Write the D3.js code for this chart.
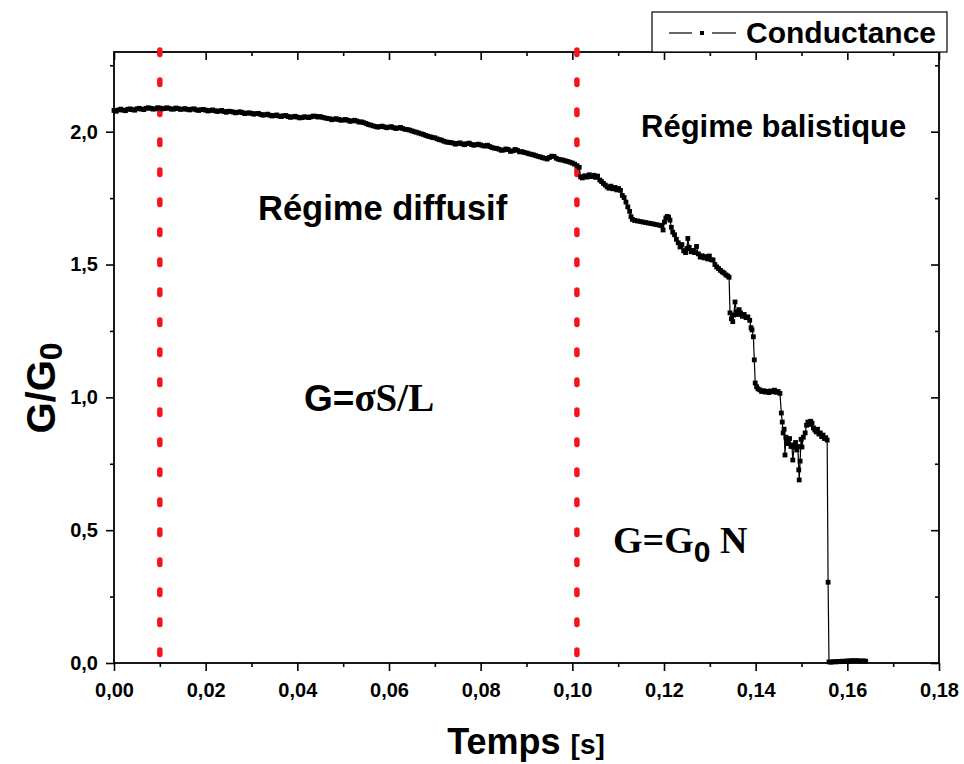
<!DOCTYPE html>
<html><head><meta charset="utf-8">
<script src="https://cdn.jsdelivr.net/npm/d3@7"></script>
<style>body{margin:0;background:#fff}svg{display:block}</style>
</head><body>
<svg id="c" width="964" height="764"></svg>
<script>
// ---- DATA ----
const timeS = [
0.0000,0.0005,0.0010,0.0015,0.0020,0.0025,0.0030,0.0035,0.0040,0.0045,
0.0050,0.0055,0.0060,0.0065,0.0070,0.0075,0.0080,0.0085,0.0090,0.0095,
0.0100,0.0105,0.0110,0.0115,0.0120,0.0125,0.0130,0.0135,0.0140,0.0145,
0.0150,0.0155,0.0160,0.0165,0.0170,0.0175,0.0180,0.0185,0.0190,0.0195,
0.0200,0.0205,0.0210,0.0215,0.0220,0.0225,0.0230,0.0235,0.0240,0.0245,
0.0250,0.0255,0.0260,0.0265,0.0270,0.0275,0.0280,0.0285,0.0290,0.0295,
0.0300,0.0305,0.0310,0.0315,0.0320,0.0325,0.0330,0.0335,0.0340,0.0345,
0.0350,0.0355,0.0360,0.0365,0.0370,0.0375,0.0380,0.0385,0.0390,0.0395,
0.0400,0.0405,0.0410,0.0415,0.0420,0.0425,0.0430,0.0435,0.0440,0.0445,
0.0450,0.0455,0.0460,0.0465,0.0470,0.0475,0.0480,0.0485,0.0490,0.0495,
0.0500,0.0505,0.0510,0.0515,0.0520,0.0525,0.0530,0.0535,0.0540,0.0545,
0.0550,0.0555,0.0560,0.0565,0.0570,0.0575,0.0580,0.0585,0.0590,0.0595,
0.0600,0.0605,0.0610,0.0615,0.0620,0.0625,0.0630,0.0635,0.0640,0.0645,
0.0650,0.0655,0.0660,0.0665,0.0670,0.0675,0.0680,0.0685,0.0690,0.0695,
0.0700,0.0705,0.0710,0.0715,0.0720,0.0725,0.0730,0.0735,0.0740,0.0745,
0.0750,0.0755,0.0760,0.0765,0.0770,0.0775,0.0780,0.0785,0.0790,0.0795,
0.0800,0.0805,0.0810,0.0815,0.0820,0.0825,0.0830,0.0835,0.0840,0.0845,
0.0850,0.0855,0.0860,0.0865,0.0870,0.0875,0.0880,0.0885,0.0890,0.0895,
0.0900,0.0905,0.0910,0.0915,0.0920,0.0925,0.0930,0.0935,0.0940,0.0945,
0.0950,0.0955,0.0960,0.0965,0.0970,0.0975,0.0980,0.0985,0.0990,0.0995,
0.1000,0.1005,0.1010,
0.1015,0.1018,0.1022,0.1027,0.1032,0.1037,0.1042,0.1047,0.1051,0.1055,
0.1060,0.1064,0.1068,0.1072,0.1076,0.1080,0.1084,0.1089,0.1093,0.1097,
0.1101,0.1105,0.1109,0.1113,0.1117,0.1121,0.1125,0.1128,0.1131,0.1136,
0.1142,0.1148,0.1154,0.1160,0.1166,0.1172,0.1178,0.1184,0.1190,0.1195,
0.1198,0.1201,0.1204,0.1207,0.1210,0.1213,0.1216,0.1219,0.1223,0.1227,
0.1231,0.1235,0.1239,0.1243,0.1247,0.1250,0.1252,0.1255,0.1259,0.1263,
0.1267,0.1271,0.1275,0.1279,0.1283,0.1287,0.1291,0.1295,0.1299,0.1303,
0.1307,0.1311,0.1315,0.1319,0.1323,0.1327,0.1331,0.1335,0.1339,0.1342,
0.1344,0.1347,0.1350,0.1352,0.1355,0.1358,0.1361,0.1364,0.1367,0.1371,
0.1375,0.1379,0.1383,0.1387,0.1390,0.1392,0.1395,0.1397,0.1399,0.1402,
0.1405,0.1409,0.1413,0.1417,0.1421,0.1425,0.1429,0.1433,0.1437,0.1441,
0.1445,0.1449,0.1453,0.1456,0.1458,0.1460,0.1462,0.1464,0.1466,0.1468,
0.1471,0.1474,0.1477,0.1479,0.1481,0.1484,0.1487,0.1490,0.1492,0.1494,
0.1495,0.1497,0.1499,0.1501,0.1504,0.1508,0.1511,0.1514,0.1517,0.1520,
0.1523,0.1526,0.1529,0.1532,0.1535,0.1538,0.1541,0.1544,0.1547,0.1550,
0.1553,0.1556,0.1558,0.1560,0.1565,0.1570,0.1575,0.1580,0.1585,0.1590,
0.1595,0.1600,0.1605,0.1610,0.1615,0.1620,0.1625,0.1630,0.1635,0.1640
];
const conductance = [
2.080,2.077,2.082,2.085,2.081,2.079,2.084,2.086,2.083,2.081,
2.086,2.088,2.085,2.083,2.088,2.090,2.088,2.085,2.086,2.090,
2.089,2.086,2.087,2.090,2.088,2.085,2.085,2.089,2.087,2.084,
2.085,2.087,2.084,2.082,2.085,2.086,2.082,2.080,2.083,2.084,
2.081,2.078,2.080,2.082,2.079,2.076,2.078,2.080,2.076,2.073,
2.077,2.076,2.074,2.071,2.073,2.075,2.072,2.068,2.070,2.071,
2.069,2.066,2.068,2.069,2.065,2.062,2.064,2.066,2.062,2.059,
2.061,2.063,2.059,2.057,2.060,2.061,2.057,2.054,2.056,2.058,
2.055,2.052,2.053,2.056,2.055,2.053,2.056,2.059,2.058,2.055,
2.057,2.054,2.052,2.050,2.049,2.045,2.047,2.049,2.046,2.043,
2.044,2.046,2.043,2.039,2.041,2.043,2.040,2.036,2.037,2.034,
2.031,2.027,2.025,2.022,2.020,2.017,2.019,2.021,2.018,2.015,
2.017,2.019,2.015,2.012,2.014,2.016,2.012,2.009,2.008,2.006,
2.003,2.000,1.998,1.995,1.992,1.990,1.986,1.983,1.981,1.978,
1.977,1.973,1.970,1.968,1.964,1.961,1.960,1.959,1.957,1.953,
1.956,1.958,1.954,1.951,1.955,1.957,1.952,1.949,1.951,1.953,
1.950,1.947,1.946,1.949,1.944,1.940,1.938,1.937,1.934,1.930,
1.931,1.935,1.933,1.926,1.928,1.933,1.930,1.924,1.925,1.922,
1.920,1.917,1.915,1.913,1.910,1.907,1.905,1.902,1.900,1.897,
1.903,1.908,1.907,1.900,1.896,1.894,1.893,1.890,1.888,1.885,
1.882,1.878,1.872,
1.866,1.830,1.826,1.834,1.829,1.838,1.831,1.836,1.828,1.833,
1.818,1.812,1.805,1.799,1.792,1.787,1.795,1.785,1.790,1.781,
1.786,1.779,1.760,1.752,1.735,1.717,1.700,1.680,1.670,1.666,
1.664,1.662,1.660,1.658,1.656,1.654,1.652,1.650,1.648,1.646,
1.630,1.660,1.675,1.681,1.678,1.667,1.640,1.622,1.612,1.595,
1.582,1.566,1.575,1.552,1.545,1.560,1.598,1.565,1.548,1.553,
1.545,1.568,1.540,1.528,1.533,1.525,1.530,1.521,1.532,1.518,
1.517,1.500,1.491,1.485,1.478,1.472,1.468,1.461,1.457,1.452,
1.318,1.296,1.285,1.310,1.359,1.322,1.312,1.330,1.318,1.305,
1.312,1.300,1.303,1.290,1.262,1.254,1.228,1.141,1.054,1.040,
1.032,1.028,1.022,1.025,1.020,1.023,1.018,1.024,1.021,1.027,
1.019,1.022,1.015,0.941,0.907,0.866,0.880,0.783,0.850,0.839,
0.826,0.845,0.815,0.821,0.764,0.812,0.830,0.802,0.815,0.727,
0.689,0.760,0.842,0.813,0.850,0.866,0.895,0.907,0.898,0.910,
0.903,0.885,0.877,0.870,0.880,0.862,0.866,0.852,0.858,0.845,
0.848,0.839,0.304,0.004,0.003,0.005,0.004,0.006,0.005,0.007,
0.006,0.008,0.007,0.009,0.008,0.009,0.008,0.007,0.008,0.007
];
const xMajorTicks = [0,0.02,0.04,0.06,0.08,0.10,0.12,0.14,0.16,0.18];
const xMinorTicks = [0.01,0.03,0.05,0.07,0.09,0.11,0.13,0.15,0.17];
const yMajorTicks = [0,0.5,1.0,1.5,2.0];
const yMinorTicks = [0.25,0.75,1.25,1.75,2.25];
const regimeBoundaries = [0.01,0.1010];
const seriesName = "Conductance";

// ---- CHART ----
const svg = d3.select("#c");
const L = 114, R = 939, T = 52, B = 663;
const x = d3.scaleLinear().domain([0,0.18]).range([L,R]);
const y = d3.scaleLinear().domain([0,2.3]).range([B,T]);
const sans = "'Liberation Sans', Arial, sans-serif";
const serif = "'Liberation Serif', 'Times New Roman', serif";
const fmtX = d => d3.format(".2f")(d).replace(".", ",");
const fmtY = d => d3.format(".1f")(d).replace(".", ",");

function styleAxis(g){
  g.select(".domain").remove();
  g.selectAll("line").attr("stroke","#000").attr("stroke-width",1.6);
  g.selectAll("text").attr("font-family",sans).attr("font-weight","bold")
   .attr("font-size",20).attr("fill","#000");
}
// bottom
svg.append("g").attr("transform",`translate(0,${B})`)
  .call(d3.axisBottom(x).tickValues(xMajorTicks).tickSize(8).tickPadding(12).tickFormat(fmtX)).call(styleAxis);
svg.append("g").attr("transform",`translate(0,${B})`)
  .call(d3.axisBottom(x).tickValues(xMinorTicks).tickSize(4).tickFormat("")).call(styleAxis);
// top
svg.append("g").attr("transform",`translate(0,${T})`)
  .call(d3.axisTop(x).tickValues(xMajorTicks).tickSize(-8).tickFormat("")).call(styleAxis);
svg.append("g").attr("transform",`translate(0,${T})`)
  .call(d3.axisTop(x).tickValues(xMinorTicks).tickSize(-4).tickFormat("")).call(styleAxis);
// left
svg.append("g").attr("transform",`translate(${L},0)`)
  .call(d3.axisLeft(y).tickValues(yMajorTicks).tickSize(8).tickPadding(8).tickFormat(fmtY)).call(styleAxis);
svg.append("g").attr("transform",`translate(${L},0)`)
  .call(d3.axisLeft(y).tickValues(yMinorTicks).tickSize(4).tickFormat("")).call(styleAxis);
// right
svg.append("g").attr("transform",`translate(${R},0)`)
  .call(d3.axisRight(y).tickValues(yMajorTicks).tickSize(-8).tickFormat("")).call(styleAxis);
svg.append("g").attr("transform",`translate(${R},0)`)
  .call(d3.axisRight(y).tickValues(yMinorTicks).tickSize(-4).tickFormat("")).call(styleAxis);

// frame
svg.append("rect").attr("x",L).attr("y",T).attr("width",R-L).attr("height",B-T)
  .attr("fill","none").attr("stroke","#000").attr("stroke-width",1.8);

// red dotted regime boundaries
svg.selectAll("line.reg").data(regimeBoundaries).enter().append("line")
  .attr("class","reg")
  .attr("x1",d=>x(d)).attr("x2",d=>x(d)).attr("y1",T-2).attr("y2",B-3)
  .attr("stroke","#f5141a").attr("stroke-width",5.5)
  .attr("stroke-linecap","round").attr("stroke-dasharray","4.5,25.5");

// data
const pts = timeS.map((t,i)=>[t,conductance[i]]);
svg.append("path").datum(pts)
  .attr("d", d3.line().x(d=>x(d[0])).y(d=>y(d[1])))
  .attr("fill","none").attr("stroke","#000").attr("stroke-width",1.2);
const ms = 4.8;
svg.append("g").selectAll("rect").data(pts).enter().append("rect")
  .attr("x",d=>x(d[0])-ms/2).attr("y",d=>y(d[1])-ms/2)
  .attr("width",ms).attr("height",ms).attr("fill","#000");

// annotations
function txt(xp, yp, size, fam, content, anchor){
  return svg.append("text").attr("x",xp).attr("y",yp).attr("font-size",size)
    .attr("font-family",fam).attr("font-weight","bold").attr("fill","#000")
    .attr("text-anchor",anchor||"start").text(content);
}
txt(258, 220, 34.5, sans, "Régime diffusif");
txt(641, 137, 31, sans, "Régime balistique");

const t1 = svg.append("text").attr("x",304).attr("y",411).attr("font-weight","bold").attr("fill","#000");
t1.append("tspan").attr("font-family",sans).attr("font-size",37).text("G=");
t1.append("tspan").attr("font-family",serif).attr("font-size",39).text("σS/L");

const t2 = svg.append("text").attr("x",613).attr("y",553).attr("font-weight","bold").attr("fill","#000").attr("font-family",serif).attr("font-size",38);
t2.append("tspan").text("G=G");
t2.append("tspan").attr("font-family",sans).attr("font-size",30).attr("dy",9).text("0");
t2.append("tspan").attr("dy",-9).text(" N");

// axis titles
const xt = svg.append("text").attr("x",526).attr("y",754).attr("text-anchor","middle")
  .attr("font-family",sans).attr("font-weight","bold").attr("fill","#000");
xt.append("tspan").attr("font-size",36).text("Temps ");
xt.append("tspan").attr("font-size",28).text("[s]");

const yt = svg.append("text").attr("transform","translate(55,388) rotate(-90)").attr("text-anchor","middle")
  .attr("font-family",sans).attr("font-weight","bold").attr("fill","#000").attr("font-size",40);
yt.append("tspan").text("G/G");
yt.append("tspan").attr("font-size",32).attr("dy",7).text("0");

// legend
const lg = svg.append("g");
lg.append("rect").attr("x",652).attr("y",12).attr("width",295).attr("height",40)
  .attr("fill","#fff").attr("stroke","#000").attr("stroke-width",1.2);
lg.append("line").attr("x1",669).attr("x2",692).attr("y1",33).attr("y2",33).attr("stroke","#000").attr("stroke-width",1.2);
lg.append("line").attr("x1",712).attr("x2",736).attr("y1",33).attr("y2",33).attr("stroke","#000").attr("stroke-width",1.2);
lg.append("rect").attr("x",700).attr("y",31).attr("width",4).attr("height",4).attr("fill","#000");
lg.append("text").attr("x",746).attr("y",43).attr("font-family",sans).attr("font-weight","bold")
  .attr("font-size",30).attr("fill","#000").text(seriesName);
</script>
</body></html>
